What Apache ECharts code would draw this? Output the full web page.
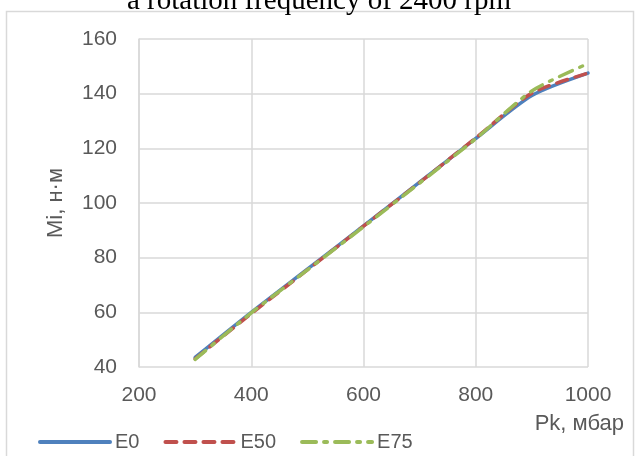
<!DOCTYPE html>
<html>
<head>
<meta charset="utf-8">
<script src="https://cdn.jsdelivr.net/npm/echarts@6/dist/echarts.min.js"></script>
<style>
  html, body { margin: 0; padding: 0; background: #ffffff; }
  #chart { width: 638px; height: 456px; }
</style>
</head>
<body>
<div id="chart"></div>
<script>
// Boost pressure Pk (mbar) and indicated torque Mi (N·m) for three fuels
const pressure = [300, 400, 500, 600, 700, 800, 900, 1000];
const torqueE0  = [43.5, 60.0, 75.8, 91.6, 107.6, 123.6, 139.3, 147.5];
const torqueE50 = [43.0, 59.5, 75.5, 91.5, 107.5, 123.8, 140.2, 147.5];
const torqueE75 = [42.8, 59.8, 75.5, 91.3, 107.3, 123.5, 141.0, 151.0];
const xTicks = [200, 400, 600, 800, 1000];
const yTicks = [40, 60, 80, 100, 120, 140, 160];

const pairs = ys => pressure.map((p, i) => [p, ys[i]]);
const labelFont = '"Liberation Sans", "DejaVu Sans", sans-serif';
const gridColor = '#d9d9d9';
const textColor = '#595959';

const chart = echarts.init(document.getElementById('chart'), null, { renderer: 'canvas' });

const lineSeries = (name, ys, color, dash) => ({
  name: name,
  type: 'line',
  data: pairs(ys),
  smooth: 0.25,
  symbol: 'none',
  lineStyle: { color: color, width: 3.5, type: dash, cap: 'round' },
  itemStyle: { color: color },
  z: 3
});

chart.setOption({
  animation: false,
  backgroundColor: '#ffffff',
  graphic: [
    {
      type: 'rect',
      shape: { x: 6.5, y: 11.5, width: 627, height: 470 },
      style: { fill: 'none', stroke: gridColor, lineWidth: 1.5 },
      z: -1
    },
    {
      type: 'text',
      x: 319,
      y: 1,
      style: {
        text: 'a rotation frequency of 2400 rpm',
        font: '29px "Liberation Serif", "Times New Roman", serif',
        fill: '#000000',
        align: 'center',
        verticalAlign: 'middle'
      }
    }
  ],
  grid: { left: 139, right: 50, top: 39, bottom: 89 },
  legend: {
    left: 33,
    top: 427,
    itemWidth: 70,
    itemHeight: 12,
    itemGap: 24,
    itemStyle: { opacity: 0 },
    lineStyle: { width: 4 },
    textStyle: { fontFamily: labelFont, fontSize: 20, color: textColor },
    data: ['E0', 'E50', 'E75']
  },
  xAxis: {
    type: 'value',
    min: xTicks[0],
    max: xTicks[xTicks.length - 1],
    interval: 200,
    name: 'Pk, мбар',
    nameLocation: 'end',
    nameGap: 36,
    nameTextStyle: {
      fontFamily: labelFont, fontSize: 22, color: textColor,
      align: 'right', verticalAlign: 'top', padding: [46, 0, 0, 0]
    },
    axisLine: { show: false },
    axisTick: { show: false },
    axisLabel: {
      fontFamily: labelFont, fontSize: 21, color: textColor, margin: 18,
      formatter: v => String(v)
    },
    splitLine: { show: true, lineStyle: { color: gridColor, width: 1.5 } }
  },
  yAxis: {
    type: 'value',
    min: yTicks[0],
    max: yTicks[yTicks.length - 1],
    interval: 20,
    name: 'Mi, н·м',
    nameLocation: 'middle',
    nameGap: 72,
    nameTextStyle: { fontFamily: labelFont, fontSize: 22, color: textColor },
    axisLine: { show: true, lineStyle: { color: gridColor, width: 1.5 } },
    axisTick: { show: false },
    axisLabel: {
      fontFamily: labelFont, fontSize: 21, color: textColor, margin: 22,
      formatter: v => String(v)
    },
    splitLine: { show: true, lineStyle: { color: gridColor, width: 1.5 } }
  },
  series: [
    lineSeries('E0', torqueE0, '#4f81bd', 'solid'),
    lineSeries('E50', torqueE50, '#c0504d', [11, 8]),
    lineSeries('E75', torqueE75, '#9bbb59', [14, 8, 3, 8])
  ]
});
</script>
</body>
</html>
